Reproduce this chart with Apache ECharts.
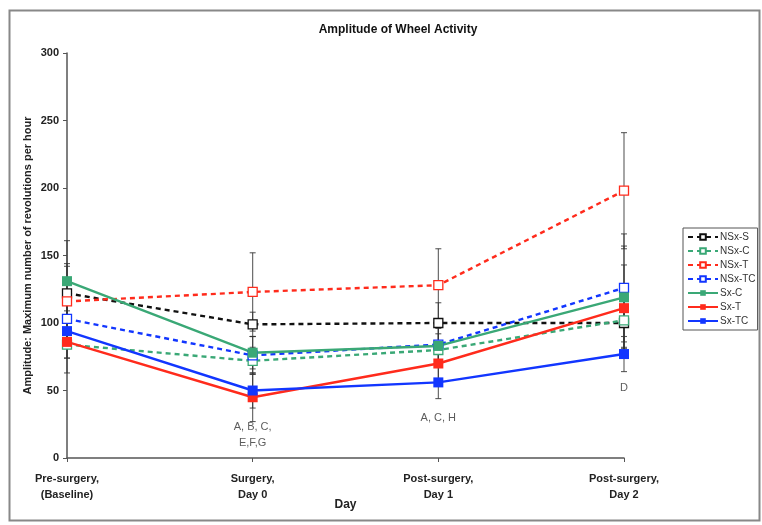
<!DOCTYPE html>
<html>
<head>
    <meta charset="utf-8">
    <script src="https://cdn.jsdelivr.net/npm/echarts@6/dist/echarts.min.js"></script>
</head>
<body style="margin:0;background:#fff">
    <div id="main" style="width:762px;height:525px"></div>
    <script type="text/javascript">
        // categories + tick labels
        var days = ['Pre-surgery,\n(Baseline)', 'Surgery,\nDay 0', 'Post-surgery,\nDay 1', 'Post-surgery,\nDay 2'];
        var yTicks = [0, 50, 100, 150, 200, 250, 300];

        // group means
        var nsxS  = [122, 99, 100, 100];
        var nsxC  = [84, 72, 80, 102];
        var nsxT  = [116, 123, 128, 198];
        var nsxTC = [103, 76, 84, 126];
        var sxC   = [131, 78, 83, 119];
        var sxT   = [86, 45, 70, 111];
        var sxTC  = [94, 50, 56, 77];

        // error bar half-lengths
        var errS  = [20, 9, 15, 25];
        var errC  = [10, 10, 12, 20];
        var errT  = [28, 29, 27, 43];
        var errTC = [15, 14, 12, 40];
        var errSC = [30, 12, 15, 38];
        var errST = [23, 18, 14, 32];
        var errSTC = [20, 13, 12, 13];

        // significance notes under the points
        var noteText = ['A, B, C,\nE,F,G', 'A, C, H', 'D'];
        var noteAt = [[1, 17], [2, 30], [3, 52]];

        var GREEN = '#3aa876', RED = '#ff2b1c', BLUE = '#1236ff', BLACK = '#111';

        var groups = [
            {name: 'NSx-S', v: nsxS, e: errS, c: BLACK, dash: true},
            {name: 'NSx-C', v: nsxC, e: errC, c: GREEN, dash: true},
            {name: 'NSx-T', v: nsxT, e: errT, c: RED, dash: true},
            {name: 'NSx-TC', v: nsxTC, e: errTC, c: BLUE, dash: true},
            {name: 'Sx-C', v: sxC, e: errSC, c: GREEN, dash: false},
            {name: 'Sx-T', v: sxT, e: errST, c: RED, dash: false},
            {name: 'Sx-TC', v: sxTC, e: errSTC, c: BLUE, dash: false}
        ];

        var series = [];
        // error bars first so lines sit on top
        groups.forEach(function (g) {
            var bars = g.v.map(function (m, i) { return [i, m - g.e[i], m + g.e[i]]; });
            series.push({
                type: 'custom',
                silent: true,
                z: 1,
                data: bars,
                renderItem: function (params, api) {
                    var lo = api.coord([api.value(0), api.value(1)]);
                    var hi = api.coord([api.value(0), api.value(2)]);
                    var w = 3;
                    var st = {stroke: '#333', lineWidth: 1.1, opacity: 0.8};
                    return {
                        type: 'group',
                        children: [
                            {type: 'line', shape: {x1: lo[0], y1: lo[1], x2: hi[0], y2: hi[1]}, style: st},
                            {type: 'line', shape: {x1: lo[0] - w, y1: lo[1], x2: lo[0] + w, y2: lo[1]}, style: st},
                            {type: 'line', shape: {x1: hi[0] - w, y1: hi[1], x2: hi[0] + w, y2: hi[1]}, style: st}
                        ]
                    };
                }
            });
        });
        groups.forEach(function (g) {
            series.push({
                name: g.name,
                type: 'line',
                z: 3,
                data: g.v,
                symbol: 'rect',
                symbolSize: g.dash ? 9 : 10,
                showAllSymbol: true,
                lineStyle: {color: g.c, width: 2.4, type: g.dash ? [5, 4] : 'solid'},
                itemStyle: g.dash ? {color: '#fff', borderColor: g.c, borderWidth: 1.3}
                                  : {color: g.c, borderColor: g.c, borderWidth: 0}
            });
        });
        series.push({
            type: 'scatter',
            silent: true,
            symbolSize: 0,
            z: 4,
            data: noteAt.map(function (p, i) { return {value: p, name: noteText[i]}; }),
            label: {
                show: true,
                position: 'inside',
                formatter: function (p) { return p.name; },
                color: '#333',
                fontFamily: 'Liberation Sans',
                fontSize: 11,
                lineHeight: 16
            }
        });

        var myChart = echarts.init(document.getElementById('main'));
        var option = {
            animation: false,
            backgroundColor: '#fff',
            title: {
                text: 'Amplitude of Wheel Activity',
                left: 393, top: 19, textAlign: 'center',
                textStyle: {fontFamily: 'Liberation Sans', fontSize: 12, fontWeight: 'bold', color: '#111'}
            },
            graphic: [{
                type: 'rect', left: 7, top: 8, silent: true,
                shape: {width: 750, height: 510},
                style: {fill: 'none', stroke: '#888', lineWidth: 2}
            }],
            legend: {
                orient: 'vertical',
                left: 683, top: 228,
                data: groups.map(function (g) { return g.name; }),
                itemWidth: 30, itemHeight: 7, itemGap: 4,
                padding: [4, 2, 4, 4],
                borderColor: '#555', borderWidth: 1,
                textStyle: {fontFamily: 'Liberation Sans', fontSize: 10, color: '#333', padding: [0, 0, 0, -3]}
            },
            grid: {left: 67, right: 138, top: 53, bottom: 67},
            xAxis: {
                type: 'category',
                data: days,
                boundaryGap: false,
                name: 'Day',
                nameLocation: 'middle',
                nameGap: 41,
                nameMoveOverlap: false,
                nameTextStyle: {fontFamily: 'Liberation Sans', fontSize: 12, fontWeight: 'bold', color: '#222'},
                axisLine: {lineStyle: {color: '#555', width: 1.5}},
                axisTick: {alignWithLabel: true, length: 4, lineStyle: {color: '#555'}},
                axisLabel: {margin: 13, fontFamily: 'Liberation Sans', fontSize: 11, fontWeight: 'bold', color: '#222', lineHeight: 16}
            },
            yAxis: {
                type: 'value',
                min: yTicks[0], max: yTicks[yTicks.length - 1], interval: 50,
                name: 'Amplitude: Maximum number of revolutions per hour',
                nameLocation: 'middle',
                nameGap: 34,
                nameMoveOverlap: false,
                nameTextStyle: {fontFamily: 'Liberation Sans', fontSize: 11, fontWeight: 'bold', color: '#222'},
                axisLine: {show: true, lineStyle: {color: '#555', width: 1.5}},
                axisTick: {show: true, length: 4, lineStyle: {color: '#555'}},
                splitLine: {show: false},
                axisLabel: {margin: 8, fontFamily: 'Liberation Sans', fontSize: 11, fontWeight: 'bold', color: '#222'}
            },
            series: series
        };
        myChart.setOption(option);
    </script>
</body>
</html>
